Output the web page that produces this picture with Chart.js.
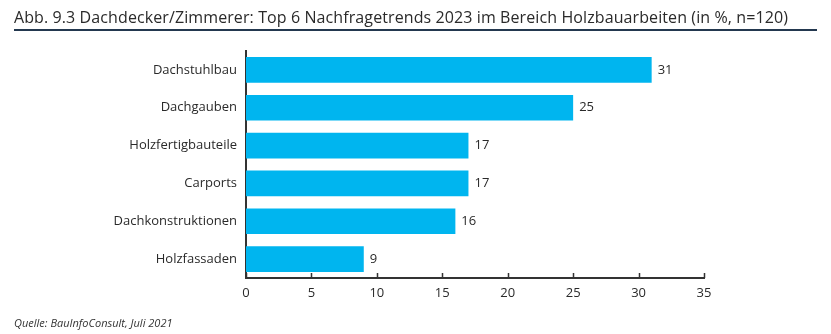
<!DOCTYPE html>
<html><head><meta charset="utf-8">
<script src="https://cdn.jsdelivr.net/npm/chart.js@4/dist/chart.umd.min.js"></script>
<style>
html,body{margin:0;padding:0;background:#fff;}
#wrap{position:relative;width:831px;height:334px;overflow:hidden;font-family:"Open Sans",sans-serif;}
#title{position:absolute;left:14px;top:6px;font-size:16px;letter-spacing:0.1px;color:#2a2a2a;white-space:nowrap;}
#rule{position:absolute;left:14px;top:29px;width:803px;height:1.5px;background:#23384f;}
#src{position:absolute;left:14px;top:315px;font-size:11px;font-style:italic;color:#333;}
canvas{position:absolute;left:0;top:0;}
</style></head><body>
<div id="wrap">
<canvas id="c" width="831" height="334"></canvas>
<div id="title">Abb. 9.3 Dachdecker/Zimmerer: Top 6 Nachfragetrends 2023 im Bereich Holzbauarbeiten (in %, n=120)</div>
<div id="rule"></div>
<div id="src">Quelle: BauInfoConsult, Juli 2021</div>
</div>
<script>
const categories = ["Dachstuhlbau","Dachgauben","Holzfertigbauteile","Carports","Dachkonstruktionen","Holzfassaden"];
const values = [31,25,17,17,16,9];
const xTicks = [0,5,10,15,20,25,30,35];

const FONT = '"Open Sans", sans-serif';
const labelPlugin = {
  id:'vals',
  afterDatasetsDraw(chart){
    const ctx = chart.ctx;
    const meta = chart.getDatasetMeta(0);
    ctx.save();
    ctx.font = '13px ' + FONT;
    ctx.fillStyle = '#2a2a2a';
    ctx.textBaseline = 'middle';
    ctx.textAlign = 'left';
    meta.data.forEach((bar,i)=>{
      ctx.fillText(String(values[i]), bar.x + 6, bar.y);
    });
    ctx.restore();
  }
};
const tickPlugin = {
  id:'upticks',
  afterDraw(chart){
    const s = chart.scales.x;
    const ctx = chart.ctx;
    ctx.save();
    ctx.strokeStyle = '#333';
    ctx.lineWidth = 1.5;
    ctx.beginPath();
    xTicks.forEach(v=>{
      const px = Math.round(s.getPixelForValue(v)) + 0.5;
      ctx.moveTo(px, s.top - 5);
      ctx.lineTo(px, s.top);
    });
    ctx.stroke();
    ctx.restore();
  }
};

new Chart(document.getElementById('c'), {
  type:'bar',
  data:{labels:categories, datasets:[{data:values, backgroundColor:'#00b5ef', borderWidth:0, barPercentage:0.68, categoryPercentage:1}]},
  options:{
    indexAxis:'y',
    responsive:false,
    animation:false,
    devicePixelRatio:1,
    layout:{padding:{left:0,right:127,top:51,bottom:36}},
    plugins:{legend:{display:false},tooltip:{enabled:false},title:{display:false}},
    scales:{
      x:{
        min:0,max:35,
        afterBuildTicks(scale){ scale.ticks = xTicks.map(v=>({value:v})); },
        afterFit(scale){ scale.height = 20; },
        grid:{display:false, drawTicks:false},
        border:{display:true,color:'#333',width:2},
        ticks:{padding:7,color:'#2a2a2a',font:{family:FONT,size:13},maxRotation:0}
      },
      y:{
        afterFit(scale){ scale.width = 246; },
        grid:{display:false, drawTicks:false},
        border:{display:true,color:'#333',width:2},
        ticks:{padding:9,color:'#2a2a2a',font:{family:FONT,size:13}}
      }
    }
  },
  plugins:[labelPlugin,tickPlugin]
});
</script>
</body></html>
